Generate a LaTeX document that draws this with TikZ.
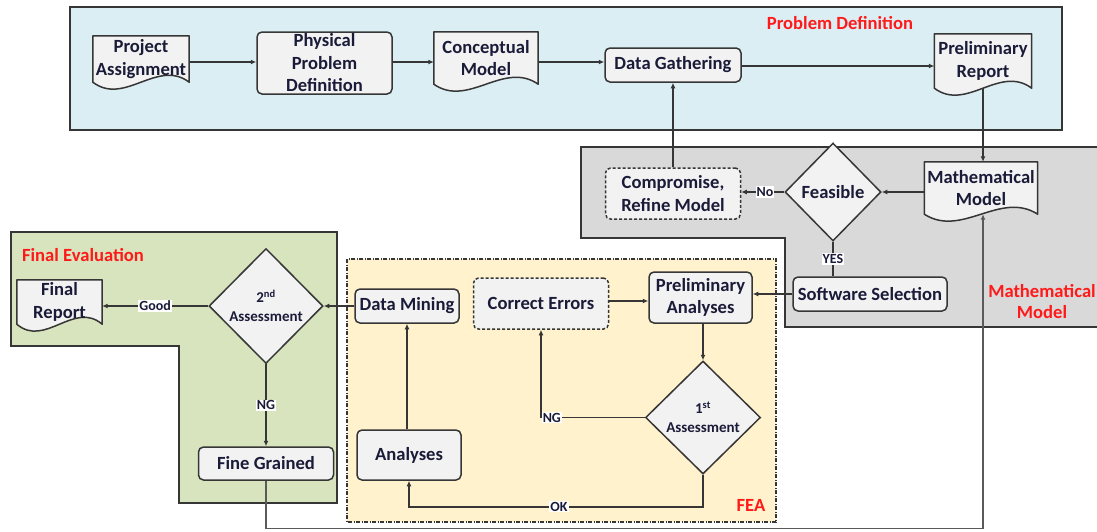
\documentclass[tikz,border=0pt]{standalone}
\usepackage{fontspec}
\setmainfont{Carlito}
\usetikzlibrary{shapes.geometric,calc,arrows.meta}

\definecolor{probbg}{HTML}{DBEEF4}
\definecolor{mathbg}{HTML}{D9D9D9}
\definecolor{finbg}{HTML}{D7E4BD}
\definecolor{feabg}{HTML}{FFF2CC}
\definecolor{boxbg}{HTML}{F2F2F2}
\definecolor{edge}{HTML}{363636}
\definecolor{ink}{HTML}{1A1B38}
\definecolor{alert}{HTML}{FF1A1A}
\definecolor{loopline}{HTML}{5A5A5A}

\pgfdeclarelayer{regions}
\pgfdeclarelayer{docs}
\pgfsetlayers{regions,docs,main}

\tikzset{
  region/.style={draw=edge, line width=1.1pt},
  txt/.style={font=\fontsize{18.6}{22.5}\selectfont\bfseries, text=ink, align=center},
  stepbox/.style={txt, rectangle, rounded corners=5pt, draw=edge, fill=boxbg, line width=1.5pt, inner sep=0pt},
  softbox/.style={stepbox, dash pattern=on 3pt off 2pt},
  docnode/.style={txt, rectangle, inner sep=0pt},
  docbox/.style={draw=edge, fill=boxbg, line width=1.5pt, line join=round},
  decision/.style={diamond, draw=edge, fill=boxbg, line width=1.5pt, inner sep=0pt, txt},
  smalltxt/.style={font=\fontsize{15}{19}\selectfont\bfseries},
  tip/.style={-{Latex[length=5.5pt,width=5pt]}},
  arr/.style={draw=edge, line width=1.5pt, tip},
  link/.style={draw=edge, line width=1.5pt},
  lbl/.style={fill=white, font=\fontsize{14}{16}\selectfont\bfseries, text=ink, inner sep=1pt},
  heading/.style={font=\fontsize{18.6}{21}\selectfont\bfseries, text=alert, align=center},
}

% document symbol: rectangle with a wavy lower edge
\newcommand{\docshape}[1]{%
  \path[docbox] (#1.north west) -- (#1.north east) -- (#1.south east)
    .. controls ($(#1.south east)!0.33!(#1.south west)+(0,-24)$)
       and ($(#1.south east)!0.67!(#1.south west)+(0,24)$) .. (#1.south west) -- cycle;}

\begin{document}
\begin{tikzpicture}[x=1pt, y=-1pt]
\useasboundingbox (0,0) rectangle (1097,531);

% ---------- phase areas ----------
\begin{pgfonlayer}{regions}
  \path[region, fill=probbg] (70,7) rectangle (1062,130);
  \path[region, fill=mathbg] (581,147) -- (1102,147) -- (1102,327) -- (785,327)
        -- (785,238) -- (581,238) -- cycle;
  \path[region, fill=finbg] (11,232) -- (337,232) -- (337,503) -- (179,503)
        -- (179,346) -- (11,346) -- cycle;
  \path[region, fill=feabg, dash pattern=on 4pt off 1.5pt on 1pt off 1.5pt]
        (347,259) rectangle (776,522);
\end{pgfonlayer}

% ---------- problem definition ----------
\node[docnode, minimum width=96pt, minimum height=46pt] (pa) at (141,59) {Project\\Assignment};
\node[stepbox, minimum width=135pt, minimum height=62pt] (ppd) at (324.5,63) {Physical\\Problem\\Definition};
\node[docnode, minimum width=104pt, minimum height=52pt] (cm) at (486,58) {Conceptual\\Model};
\node[stepbox, minimum width=136pt, minimum height=34pt] (dg) at (673,65) {Data Gathering};
\node[docnode, minimum width=97pt, minimum height=54pt] (pr) at (983,61) {Preliminary\\Report};

% ---------- mathematical model ----------
\node[docnode, minimum width=113pt, minimum height=52pt] (mm) at (981,188) {Mathematical\\Model};
\node[decision, minimum width=96pt, minimum height=98pt] (feas) at (833,192) {Feasible};
\node[softbox, minimum width=135pt, minimum height=51pt] (comp) at (673,193.5) {Compromise,\\Refine Model};
\node[stepbox, minimum width=154pt, minimum height=34pt] (ss) at (870,294) {Software Selection};

% ---------- FEA ----------
\node[stepbox, minimum width=103pt, minimum height=51pt] (prel) at (700.5,297.5) {Preliminary\\Analyses};
\node[softbox, minimum width=135pt, minimum height=51pt] (ce) at (541,303.5) {Correct Errors};
\node[stepbox, minimum width=104pt, minimum height=34pt] (dm) at (407,306) {Data Mining};
\node[decision, smalltxt, minimum width=115pt, minimum height=113pt] (as1) at (703,417.5) {1\textsuperscript{st}\\Assessment};
\node[stepbox, minimum width=104pt, minimum height=50pt] (an) at (409,455) {Analyses};

% ---------- final evaluation ----------
\node[decision, smalltxt, minimum width=114pt, minimum height=115pt] (as2) at (266,306) {2\textsuperscript{nd}\\Assessment};
\node[docnode, minimum width=85pt, minimum height=44pt] (fr) at (59.5,302) {Final\\Report};
\node[stepbox, minimum width=135pt, minimum height=33pt] (fg) at (266,463.5) {Fine Grained};

% ---------- document outlines ----------
\begin{pgfonlayer}{docs}
  \docshape{pa}
  \docshape{cm}
  \docshape{pr}
  \docshape{mm}
  \docshape{fr}
\end{pgfonlayer}

% ---------- connectors ----------
\draw[arr] (pa.east |- 0,62) -- (ppd.west |- 0,62);
\draw[arr] (ppd.east |- 0,62) -- (cm.west |- 0,62);
\draw[arr] (cm.east |- 0,62) -- (dg.west |- 0,62);
\draw[arr] (dg.east |- 0,66) -- (pr.west |- 0,66);
\draw[arr] (pr.south) -- (pr.south |- mm.north);
\draw[arr] (mm.west |- feas.east) -- (feas.east);
\draw[arr] (feas.west) -- node[lbl, pos=0.45]{No} (comp.east |- feas.west);
\draw[arr] (comp.north) -- (dg.south -| comp.north);
\draw[link] (feas.south) -- node[lbl]{YES} (feas.south |- ss.north);
\draw[arr] (ss.west) -- (prel.east |- ss.west);
\draw[arr] (ce.east |- 0,301) -- (prel.west |- 0,301);
\draw[arr] (prel.south -| as1.north) -- (as1.north);
\draw[arr] (as1.west) -- node[lbl, pos=1, anchor=west]{NG} (ce.south |- as1.west) -- (ce.south);
\coordinate (okc) at ($(an.south |- as1.south)+(0,32)$);
\draw[arr] (as1.south) |- node[lbl, pos=0.745]{OK} (okc) -- (an.south);
\draw[arr] (an.north -| dm.south) -- (dm.south);
\draw[arr] (dm.west) -- (as2.east);
\draw[arr] (as2.west) -- node[lbl]{Good} (fr.east |- as2.west);
\draw[arr] (as2.south) -- node[lbl]{NG} (fg.north -| as2.south);
\coordinate (loopc) at ($(fg.south)+(0,48)$);
\draw[draw=loopline, line width=1.3pt, tip]
  (fg.south) -- (loopc) -| (mm.south -| pr.south);

% ---------- phase titles ----------
\node[heading] (tprob) at (840,23) {Problem Definition};
\node[heading] (tmath) at (1042,302) {Mathematical\\Model};
\node[heading] (tfin) at (83,255) {Final Evaluation};
\node[heading] (tfea) at (751,505) {FEA};

\end{tikzpicture}
\end{document}
